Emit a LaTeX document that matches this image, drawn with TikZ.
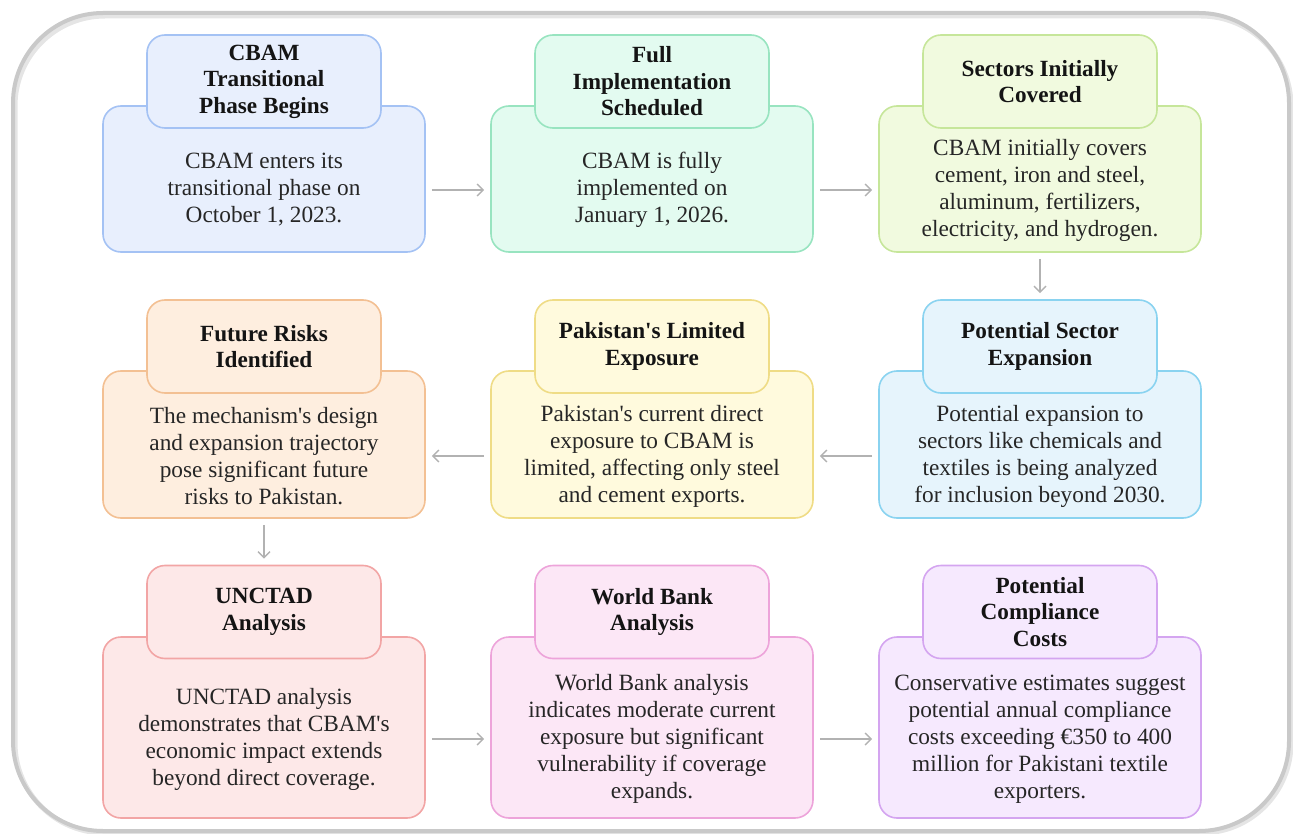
\documentclass[tikz,border=0pt]{standalone}
\usepackage{fontspec}
\setmainfont{Liberation Serif}
\usetikzlibrary{arrows.meta}

\definecolor{frameC}{HTML}{C9C9C9}
\definecolor{blueF}{HTML}{E8EFFD}\definecolor{blueD}{HTML}{A4C2F4}
\definecolor{mintF}{HTML}{E3FBF0}\definecolor{mintD}{HTML}{98E4C0}
\definecolor{limeF}{HTML}{F1FADF}\definecolor{limeD}{HTML}{C6E69A}
\definecolor{cyanF}{HTML}{E6F4FC}\definecolor{cyanD}{HTML}{8AD3F0}
\definecolor{yellF}{HTML}{FFFADD}\definecolor{yellD}{HTML}{EFDC86}
\definecolor{orngF}{HTML}{FEEEDF}\definecolor{orngD}{HTML}{F3C093}
\definecolor{redF}{HTML}{FDE8E8}\definecolor{redD}{HTML}{F2A5A5}
\definecolor{pinkF}{HTML}{FCE7F6}\definecolor{pinkD}{HTML}{EDA4DA}
\definecolor{purpF}{HTML}{F6E9FE}\definecolor{purpD}{HTML}{D4A5F0}

\newcommand{\ap}{\textquotesingle}

\begin{document}
\begin{tikzpicture}[x=1pt,y=-1pt,
  body/.style={draw,rounded corners=18pt,line width=1.6pt,minimum width=322pt,inner sep=0pt},
  head/.style={draw,rounded corners=18pt,line width=1.6pt,minimum width=234pt,minimum height=93pt,
    inner sep=0pt,align=center,font=\fontsize{23.2}{26.5}\selectfont\bfseries,text=black!92},
  txt/.style={align=center,font=\fontsize{23.3}{27}\selectfont,text=black!85},
  flow/.style={draw=black!30,line width=1.4pt,-{Straight Barb[length=6pt,width=12pt]},
    shorten <=6pt,shorten >=6pt}]
\useasboundingbox (0,0) rectangle (1293,834);

% Outer frame
\draw[line width=5pt,black!10,rounded corners=90pt] (15,16) rectangle (1291,833);
\draw[line width=4pt,frameC,rounded corners=90pt] (13,13) rectangle (1289,831);

% Row 1
\node[body,fill=blueF,draw=blueD,minimum height=146pt] (b1) at (264,179) {};
\node[head,fill=blueF,draw=blueD] (h1) at (264,81.5) {CBAM\\Transitional\\Phase Begins};
\node[txt] (t1) at (264,190) {CBAM enters its\\transitional phase on\\October 1, 2023.};

\node[body,fill=mintF,draw=mintD,minimum height=146pt] (b2) at (652,179) {};
\node[head,fill=mintF,draw=mintD] (h2) at (652,81.5) {Full\\Implementation\\Scheduled};
\node[txt] (t2) at (652,190) {CBAM is fully\\implemented on\\January 1, 2026.};

\node[body,fill=limeF,draw=limeD,minimum height=146pt] (b3) at (1040,179) {};
\node[head,fill=limeF,draw=limeD] (h3) at (1040,81.5) {Sectors Initially\\Covered};
\node[txt] (t3) at (1040,190) {CBAM initially covers\\cement, iron and steel,\\aluminum, fertilizers,\\electricity, and hydrogen.};

% Row 2
\node[body,fill=cyanF,draw=cyanD,minimum height=147pt] (b4) at (1040,444.5) {};
\node[head,fill=cyanF,draw=cyanD] (h4) at (1040,346.5) {Potential Sector\\Expansion};
\node[txt] (t4) at (1040,456) {Potential expansion to\\sectors like chemicals and\\textiles is being analyzed\\for inclusion beyond 2030.};

\node[body,fill=yellF,draw=yellD,minimum height=147pt] (b5) at (652,444.5) {};
\node[head,fill=yellF,draw=yellD] (h5) at (652,346.5) {Pakistan\ap s Limited\\Exposure};
\node[txt] (t5) at (652,456) {Pakistan\ap s current direct\\exposure to CBAM is\\limited, affecting only steel\\and cement exports.};

\node[body,fill=orngF,draw=orngD,minimum height=147pt] (b6) at (264,444.5) {};
\node[head,fill=orngF,draw=orngD] (h6) at (264,346.5) {Future Risks\\Identified};
\node[txt] (t6) at (264,456) {The mechanism\ap s design\\and expansion trajectory\\pose significant future\\risks to Pakistan.};

% Row 3
\node[body,fill=redF,draw=redD,minimum height=181pt] (b7) at (264,727.5) {};
\node[head,fill=redF,draw=redD] (h7) at (264,612) {UNCTAD\\Analysis};
\node[txt] (t7) at (264,739) {UNCTAD analysis\\demonstrates that CBAM\ap s\\economic impact extends\\beyond direct coverage.};

\node[body,fill=pinkF,draw=pinkD,minimum height=181pt] (b8) at (652,727.5) {};
\node[head,fill=pinkF,draw=pinkD] (h8) at (652,612) {World Bank\\Analysis};
\node[txt] (t8) at (652,739) {World Bank analysis\\indicates moderate current\\exposure but significant\\vulnerability if coverage\\expands.};

\node[body,fill=purpF,draw=purpD,minimum height=181pt] (b9) at (1040,727.5) {};
\node[head,fill=purpF,draw=purpD] (h9) at (1040,612) {Potential\\Compliance\\Costs};
\node[txt] (t9) at (1040,739) {Conservative estimates suggest\\potential annual compliance\\costs exceeding €350 to 400\\million for Pakistani textile\\exporters.};

% Connectors
\draw[flow] (b1.east |- t1) -- (b2.west |- t1);
\draw[flow] (b2.east |- t2) -- (b3.west |- t2);
\draw[flow] (b3.south) -- (h4.north);
\draw[flow] (b4.west |- t4) -- (b5.east |- t4);
\draw[flow] (b5.west |- t5) -- (b6.east |- t5);
\draw[flow] (b6.south) -- (h7.north);
\draw[flow] (b7.east |- t7) -- (b8.west |- t7);
\draw[flow] (b8.east |- t8) -- (b9.west |- t8);

\end{tikzpicture}
\end{document}
